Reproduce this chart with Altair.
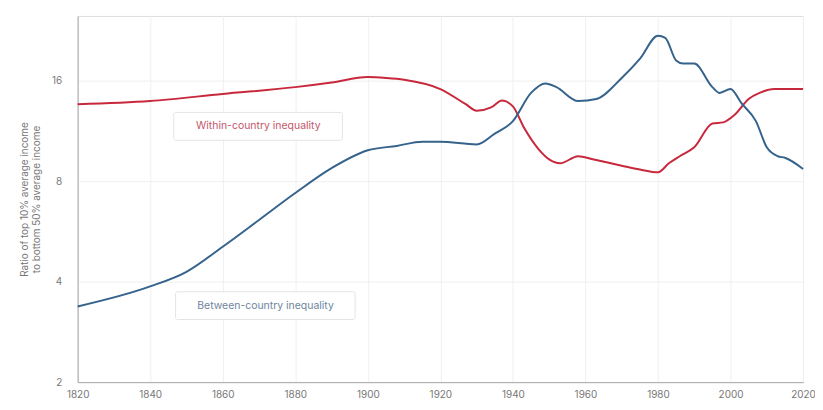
import altair as alt
import pandas as pd

within_years = [1820, 1840, 1860, 1880, 1890, 1900, 1905, 1910, 1920, 1927, 1930, 1934, 1937, 1940,
                1943, 1947, 1950, 1953, 1958, 1962, 1970, 1975, 1980, 1983, 1986, 1990, 1995, 1998,
                2001, 2005, 2008, 2012, 2020]
within_vals = [13.6, 13.9, 14.6, 15.3, 15.8, 16.4, 16.3, 16.1, 15.1, 13.6, 13.0, 13.3, 13.95, 13.4,
               11.6, 10.0, 9.3, 9.05, 9.5, 9.3, 8.9, 8.67, 8.5, 9.05, 9.5, 10.1, 11.9, 12.0,
               12.6, 14.1, 14.7, 15.1, 15.1]

between_years = [1820, 1840, 1850, 1860, 1870, 1880, 1890, 1900, 1908, 1915, 1920, 1930, 1935, 1940,
                 1945, 1949, 1952, 1958, 1963, 1970, 1975, 1980, 1982, 1985, 1987, 1990, 1995, 1997,
                 2000, 2003, 2007, 2010, 2013, 2015, 2020]
between_vals = [3.37, 3.87, 4.28, 5.09, 6.12, 7.37, 8.75, 9.9, 10.2, 10.5, 10.5, 10.3, 11.1, 12.1,
                14.7, 15.7, 15.3, 13.9, 14.1, 16.3, 18.6, 21.8, 21.5, 18.4, 18.0, 18.0, 15.3, 14.7,
                15.1, 13.7, 12.1, 10.1, 9.5, 9.4, 8.7]

series_names = ["Within-country inequality", "Between-country inequality"]
series_colors = ["#c8283c", "#35638c"]
label_colors = ["#c4566a", "#6f86a0"]

# label boxes: (x start, x end, y low, y high, text x, text y)
label_x = [1846.5, 1847.0]
label_x2 = [1893.0, 1896.5]
label_y = [10.6, 3.08]
label_y2 = [12.85, 3.73]
label_tx = [1869.8, 1871.8]
label_ty = [11.67, 3.39]

y_ticks = [2, 4, 8, 16]
x_ticks = list(range(1820, 2021, 20))

df = pd.concat([
    pd.DataFrame({"year": within_years, "ratio": within_vals, "series": series_names[0]}),
    pd.DataFrame({"year": between_years, "ratio": between_vals, "series": series_names[1]}),
])

labels = pd.DataFrame({
    "series": series_names,
    "x": label_x, "x2": label_x2, "y": label_y, "y2": label_y2,
    "tx": label_tx, "ty": label_ty,
    "tcolor": label_colors,
})

FONT = "Inter"

x_scale = alt.Scale(domain=[1820, 2020], nice=False)
y_scale = alt.Scale(type="log", base=2, domain=[2, 25], nice=False)

lines = alt.Chart(df).mark_line(strokeWidth=2, interpolate="monotone").encode(
    x=alt.X("year:Q", scale=x_scale,
            axis=alt.Axis(values=x_ticks, format="d", title=None, grid=True,
                          gridColor="#f0f0f0", ticks=False, labelPadding=7,
                          labelFontSize=10, labelColor="#777777", labelFont=FONT,
                          domainColor="#aaaaaa", labelFlush=False)),
    y=alt.Y("ratio:Q", scale=y_scale,
            axis=alt.Axis(values=y_ticks, format="d", grid=True, gridColor="#f0f0f0",
                          ticks=False, labelPadding=16, labelFontSize=10,
                          labelColor="#777777", labelFont=FONT, domainColor="#aaaaaa",
                          title=["Ratio of top 10% average income", "to bottom 50% average income"],
                          titleFont=FONT, titleFontSize=10, titleFontWeight="normal",
                          titleColor="#777777", titlePadding=10)),
    color=alt.Color("series:N", scale=alt.Scale(domain=series_names, range=series_colors), legend=None),
)

boxes = alt.Chart(labels).mark_rect(fill="white", stroke="#e4e4e4", strokeWidth=1,
                                    cornerRadius=2).encode(
    x="x:Q", x2="x2:Q", y="y:Q", y2="y2:Q",
)

texts = alt.Chart(labels).mark_text(font=FONT, fontSize=10.5, align="center",
                                    baseline="middle").encode(
    x="tx:Q", y="ty:Q", text="series:N",
    color=alt.Color("tcolor:N", scale=None),
)

chart = alt.layer(lines, boxes, texts).properties(
    width=729, height=368,
    autosize=alt.AutoSizeParams(type="none"),
    padding={"left": 70, "top": 7, "right": 12, "bottom": 19},
).configure_view(stroke=None).configure(background="white")

chart.save("out.html", embed_options={"renderer": "svg", "actions": False})
